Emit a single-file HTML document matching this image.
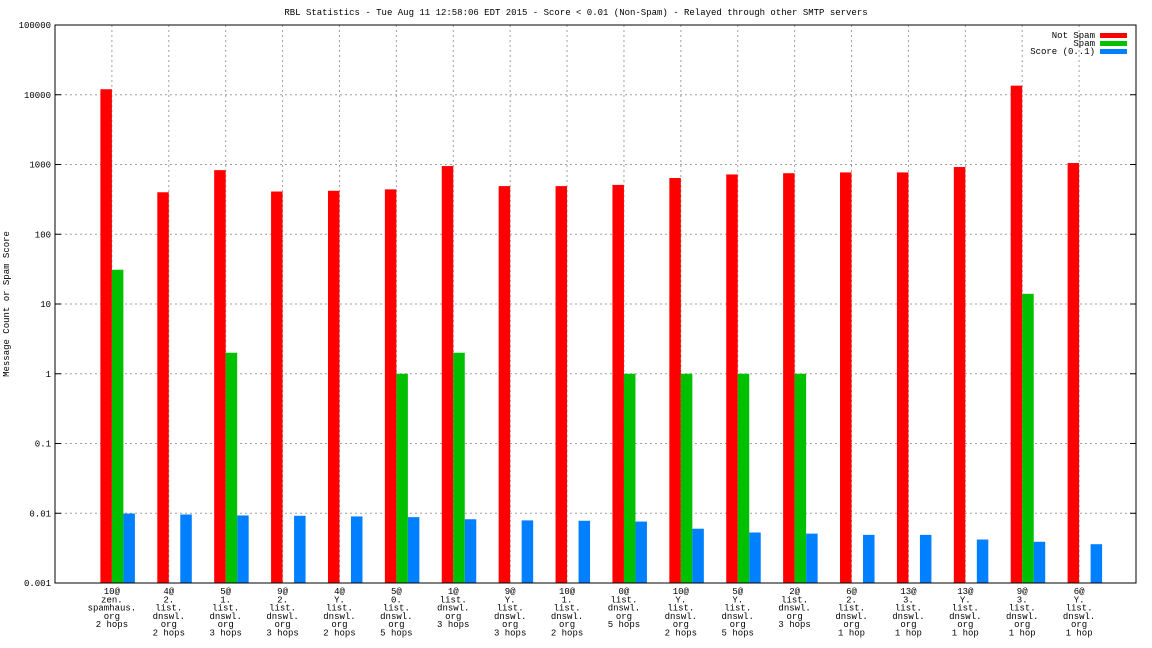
<!DOCTYPE html>
<html><head><meta charset="utf-8"><style>
html,body{margin:0;padding:0;background:#fff;}
svg{display:block;font-family:"Liberation Mono","DejaVu Sans Mono",monospace;font-size:9px;}
</style></head><body>
<svg id="chart" width="1152" height="648"></svg>
<script>
const categories=[["10@","zen.","spamhaus.","org","2 hops"],["4@","2.","list.","dnswl.","org","2 hops"],["5@","1.","list.","dnswl.","org","3 hops"],["9@","2.","list.","dnswl.","org","3 hops"],["4@","Y.","list.","dnswl.","org","2 hops"],["5@","0.","list.","dnswl.","org","5 hops"],["1@","list.","dnswl.","org","3 hops"],["9@","Y.","list.","dnswl.","org","3 hops"],["10@","1.","list.","dnswl.","org","2 hops"],["0@","list.","dnswl.","org","5 hops"],["10@","Y.","list.","dnswl.","org","2 hops"],["5@","Y.","list.","dnswl.","org","5 hops"],["2@","list.","dnswl.","org","3 hops"],["6@","2.","list.","dnswl.","org","1 hop"],["13@","3.","list.","dnswl.","org","1 hop"],["13@","Y.","list.","dnswl.","org","1 hop"],["9@","3.","list.","dnswl.","org","1 hop"],["6@","Y.","list.","dnswl.","org","1 hop"]];
const notSpam=[12000,400,830,410,420,440,950,490,490,510,640,720,750,770,770,920,13500,1050];
const spam=[31,0,2,0,0,1,2,0,0,1,1,1,1,0,0,0,14,0];
const score=[0.0099,0.0096,0.0093,0.0092,0.0090,0.0088,0.0082,0.0079,0.0078,0.0076,0.0060,0.0053,0.0051,0.0049,0.0049,0.0042,0.0039,0.0036];
const yTicks=[0.001,0.01,0.1,1,10,100,1000,10000,100000];
const yTickLabels=["0.001","0.01","0.1","1","10","100","1000","10000","100000"];
const seriesNames=["Not Spam","Spam","Score (0..1)"];

const NS="http://www.w3.org/2000/svg";
const svg=document.getElementById('chart');
const L=55,R=1136,T=25,B=583;
const lmin=-3,lmax=5;
function y(v){return B-(Math.log10(v)-lmin)/(lmax-lmin)*(B-T);}
function xc(i){return L+(i+1)*(R-L)/(categories.length+1);}
function mk(tag,attrs,parent){const e=document.createElementNS(NS,tag);for(const k in attrs)e.setAttribute(k,attrs[k]);(parent||svg).appendChild(e);return e;}
function txt(x,yy,s,anchor,parent){const t=mk('text',{x:x,y:yy,'text-anchor':anchor||'middle',fill:'#000'},parent);t.textContent=s;return t;}

const title=txt(576,15,"RBL Statistics - Tue Aug 11 12:58:06 EDT 2015 - Score < 0.01 (Non-Spam) - Relayed through other SMTP servers");



const grid=mk('g',{});


yTicks.forEach((v,i)=>{
  const yy=y(v);
  if(i>0&&i<yTicks.length-1) mk('line',{x1:L,x2:R,y1:yy,y2:yy,stroke:'#a0a0a0','stroke-dasharray':'2,3','stroke-width':1},grid);
  mk('line',{x1:L,x2:L+6,y1:yy,y2:yy,stroke:'#000'},grid);
  mk('line',{x1:R-6,x2:R,y1:yy,y2:yy,stroke:'#000'},grid);
  const t=txt(L-4,yy+3,yTickLabels[i],'end');
  
  
});
categories.forEach((c,i)=>{
  const x=xc(i);
  mk('line',{x1:x,x2:x,y1:T,y2:B,stroke:'#a0a0a0','stroke-dasharray':'2,3'},grid);
  const g=mk('g',{});
  
  
  c.forEach((s,j)=>txt(x,594+j*8.3,s,'middle',g));
});

const colors=['#ff0000','#00c000','#0080ff'];
const series=[notSpam,spam,score];
const bw=11.5;
series.forEach((arr,s)=>{
  arr.forEach((v,i)=>{
    if(!(v>0))return;
    const x=xc(i)-bw+s*bw;
    const yy=y(v);
    const r=mk('rect',{x:x,y:yy,width:bw,height:B-yy,fill:colors[s]});
    
    
  });
});
mk('rect',{x:L,y:T,width:R-L,height:B-T,fill:'none',stroke:'#000','stroke-width':1});

const yl=mk('text',{x:9,y:304,'text-anchor':'middle',transform:'rotate(-90 9 304)'});
yl.textContent="Message Count or Spam Score";



const leg=mk('g',{});


seriesNames.forEach((n,i)=>{
  const yy=35+i*8;
  txt(1095,yy+3,n,'end',leg);
  mk('rect',{x:1100,y:yy-2,width:27,height:5,fill:colors[i]},leg);
});
</script>
</body></html>
